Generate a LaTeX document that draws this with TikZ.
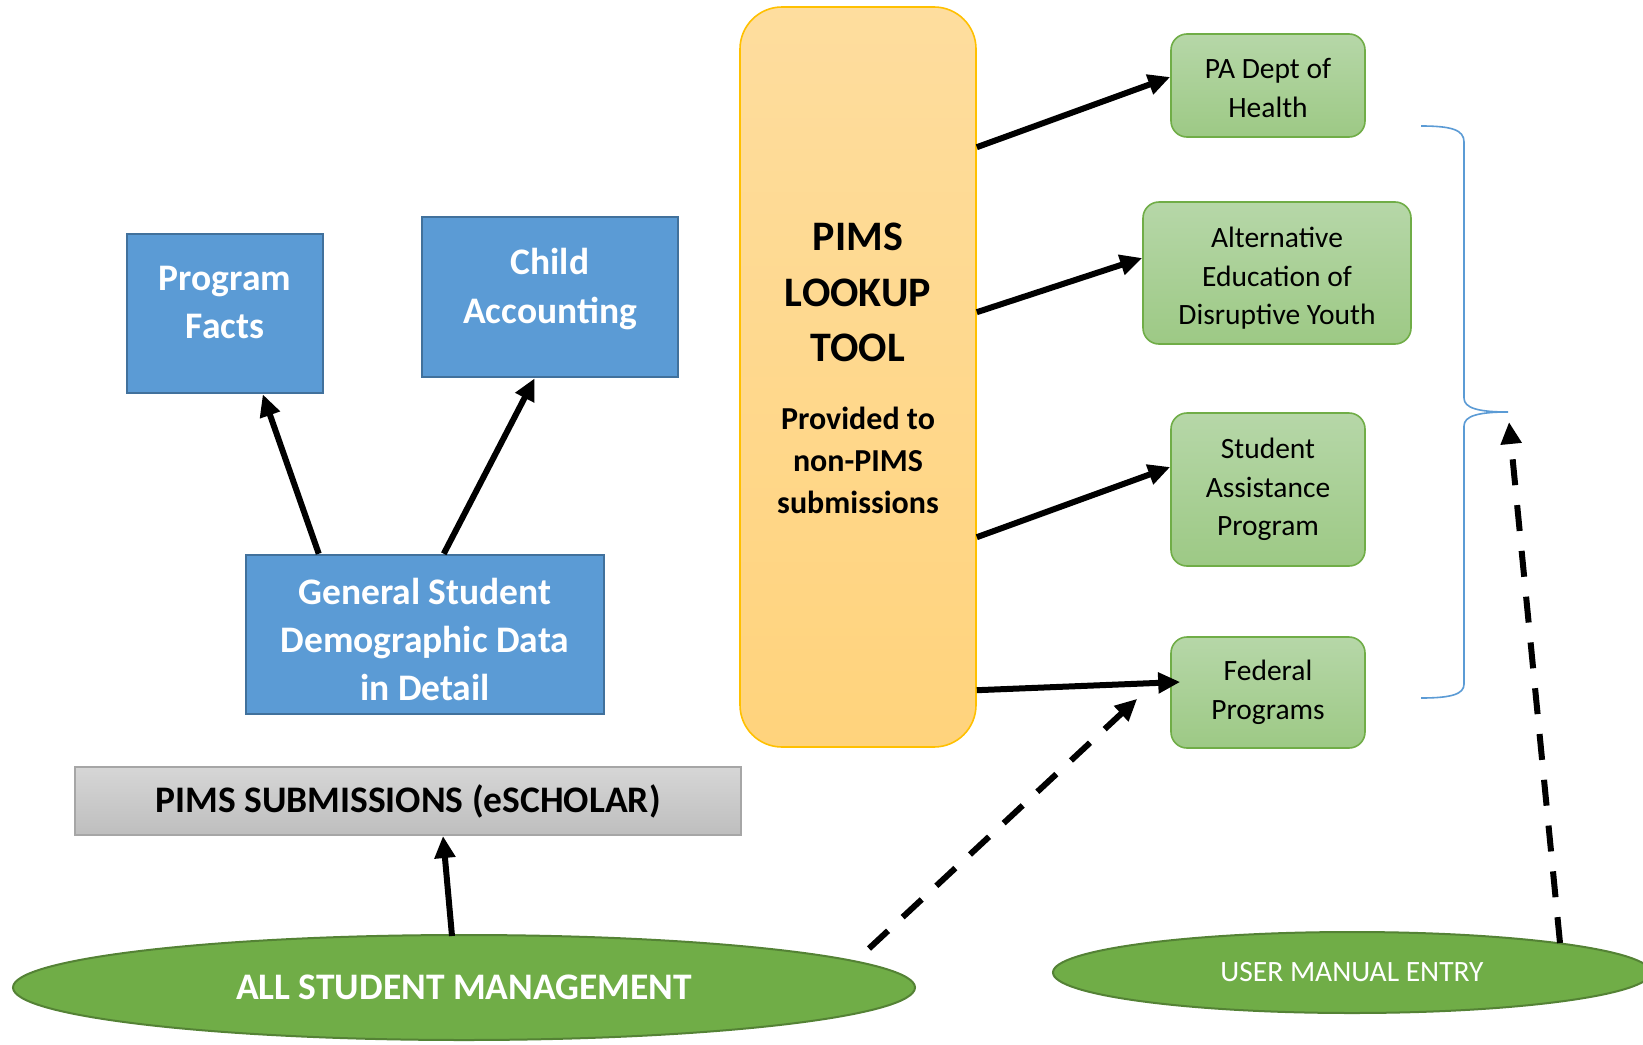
\documentclass[tikz,border=0pt]{standalone}
\usepackage{fontspec}
\setmainfont{Carlito}
\usetikzlibrary{arrows.meta,shapes.geometric,calc,shadings}
\definecolor{bfill}{HTML}{5B9BD5}
\definecolor{bdraw}{HTML}{41719C}
\definecolor{gtop}{HTML}{B6D7A8}
\definecolor{gbot}{HTML}{9DC985}
\definecolor{gdraw}{HTML}{70AD47}
\definecolor{ptop}{HTML}{FEDD9E}
\definecolor{pbot}{HTML}{FFD37C}
\definecolor{pdraw}{HTML}{FFC000}
\definecolor{stop}{HTML}{D6D6D6}
\definecolor{sbot}{HTML}{BEBEBE}
\definecolor{sdraw}{HTML}{A6A6A6}
\definecolor{efill}{HTML}{70AD47}
\definecolor{edraw}{HTML}{548235}
\definecolor{brc}{HTML}{5B9BD5}
\begin{document}
\begin{tikzpicture}[x=1pt,y=-1pt,
  bluebox/.style={rectangle, fill=bfill, draw=bdraw, line width=2.5pt, inner sep=0pt},
  bluetxt/.style={text=white, font=\fontsize{37.5}{48}\selectfont\bfseries, align=center, inner sep=0pt},
  greenbox/.style={rectangle, rounded corners=16pt, top color=gtop, bottom color=gbot, draw=gdraw, line width=1.6pt, inner sep=0pt, align=center, font=\fontsize{29.5}{38.5}\selectfont},
  pimsbox/.style={rectangle, rounded corners=42pt, top color=ptop, bottom color=pbot, draw=pdraw, line width=1.6pt, inner sep=0pt},
  subbox/.style={rectangle, top color=stop, bottom color=sbot, draw=sdraw, line width=2pt, inner sep=0pt, font=\fontsize{37.5}{42}\selectfont\bfseries},
  ell/.style={ellipse, fill=efill, draw=edraw, line width=2pt, inner sep=0pt, text=white},
  arr/.style={line width=6pt, -{Triangle[length=22pt,width=20pt]}},
  darr/.style={arr, dash pattern=on 26pt off 20pt},
  brace/.style={draw=brc, line width=1.6pt}
]
\useasboundingbox (0,0) rectangle (1643,1044);
\fill[white] (0,0) rectangle (1643,1044);
\clip (0,0) rectangle (1643,1044);

% blue boxes
\node[bluebox, minimum width=196pt, minimum height=159pt] (pf) at (225,313.5) {};
\node[bluetxt] (pftxt) at (225,302) {Program\\Facts};
\node[bluebox, minimum width=256pt, minimum height=160pt] (ca) at (550,297) {};
\node[bluetxt, font=\fontsize{37.5}{49}\selectfont\bfseries] (catxt) at (550,289.5) {Child\\Accounting};
\node[bluebox, minimum width=358pt, minimum height=159pt] (gs) at (425,634.5) {};
\node[bluetxt] (gstxt) at (425,639) {General Student\\Demographic Data\\in Detail};

% PIMS lookup tool
\node[pimsbox, minimum width=236pt, minimum height=740pt] (pims) at (858,377) {};
\node[font=\fontsize{42}{55.5}\selectfont\bfseries, align=center, inner sep=0pt] (pimstitle) at (858,292.5) {PIMS\\LOOKUP\\TOOL};
\node[font=\fontsize{32}{42}\selectfont\bfseries, align=center, inner sep=0pt] (pimssub) at (858,460) {Provided to\\non-PIMS\\submissions};

% green boxes
\node[greenbox, minimum width=194pt, minimum height=103pt] (pa) at (1268,85.5) {\rule{0pt}{25pt}PA Dept of\\Health};
\node[greenbox, minimum width=268pt, minimum height=142pt] (alt) at (1277,273) {\rule{0pt}{31pt}Alternative\\Education of\\Disruptive Youth};
\node[greenbox, minimum width=194pt, minimum height=153pt] (sap) at (1268,489.5) {Student\\Assistance\\Program};
\node[greenbox, minimum width=194pt, minimum height=111pt] (fed) at (1268,692.5) {Federal\\Programs};

% submissions bar
\node[subbox, minimum width=666pt, minimum height=68pt] (sub) at (408,801) {PIMS SUBMISSIONS (eSCHOLAR)};

% ellipses
\node[ell, minimum width=902pt, minimum height=105pt, font=\fontsize{37.5}{42}\selectfont\bfseries] (asm) at (464,987.5) {ALL STUDENT MANAGEMENT};
\node[ell, minimum width=598pt, minimum height=81pt, font=\fontsize{29.5}{34}\selectfont] (ume) at (1352,972.5) {USER MANUAL ENTRY};

% brace
\coordinate (bracetip) at (1508,412);
\draw[brace] (1421,126) .. controls (1452,126) and (1464,130) .. (1464,142) -- (1464,398)
  .. controls (1464,408) and (1478,412) .. (bracetip)
  .. controls (1478,412) and (1464,416) .. (1464,426) -- (1464,684)
  .. controls (1464,694) and (1452,698) .. (1421,698);

% arrows
\draw[arr] ($(gs.north west)+(74,0)$) -- ($(pf.south west)+(137,0)$);
\draw[arr] ($(gs.north west)+(199,0)$) -- ($(ca.south west)+(114,0)$);
\draw[arr] ($(asm.north)+(-12,2)$) -- ($(sub.south)+(35,0)$);
\draw[arr] ($(pims.north east)+(0,141)$) -- ($(pa.west)+(0,-8.5)$);
\draw[arr] ($(pims.north east)+(0,306)$) -- ($(alt.west)+(0,-15)$);
\draw[arr] ($(pims.north east)+(0,531)$) -- ($(sap.west)+(0,-22.5)$);
\draw[arr] ($(pims.north east)+(0,684)$) -- ($(fed.west)+(10,-10.5)$);
\draw[darr] ($(asm.center)+(405,-39)$) -- ($(fed.south west)+(-33,-50)$);
\draw[darr] ($(ume.center)+(208,-29.5)$) -- ($(bracetip)+(1,10)$);
\end{tikzpicture}
\end{document}
